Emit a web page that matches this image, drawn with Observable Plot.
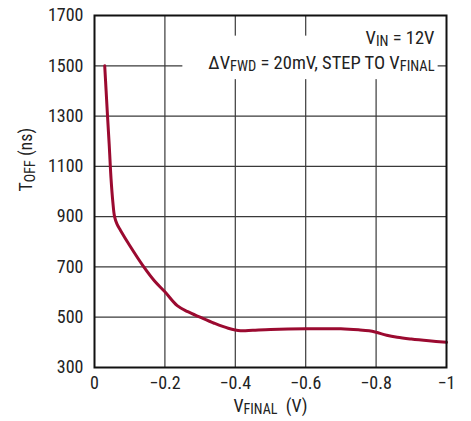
<!DOCTYPE html>
<html><head><meta charset="utf-8">
<script src="https://cdn.jsdelivr.net/npm/d3@7"></script>
<script src="https://cdn.jsdelivr.net/npm/@observablehq/plot@0.6"></script>
<style>
html,body{margin:0;padding:0;background:#fff;}
#chart svg{display:block;}
</style></head><body><div id="chart"></div>
<script>
// ---- data ----
const vFinal = [-0.029, -0.033, -0.037, -0.042, -0.047, -0.052, -0.057, -0.064, -0.074, -0.1, -0.14, -0.17, -0.2, -0.235, -0.265, -0.3, -0.34, -0.38, -0.415, -0.45, -0.5, -0.6, -0.7, -0.75, -0.78, -0.8, -0.83, -0.86, -0.9, -0.95, -1.0];
const tOff   = [1500, 1400, 1300, 1180, 1050, 960, 900, 870, 845, 785, 700, 645, 601, 546, 522, 500, 476, 456, 446, 448, 451, 454, 454, 450, 446, 440, 428, 420, 413, 406, 400];
const xTicks = [0, -0.2, -0.4, -0.6, -0.8, -1];
const xTickLabels = ["0", "−0.2", "−0.4", "−0.6", "−0.8", "−1"];
const yTicks = [300, 500, 700, 900, 1100, 1300, 1500, 1700];
const yTickLabels = ["300", "500", "700", "900", "1100", "1300", "1500", "1700"];
const annotations = ["V_{IN} = 12V", "ΔV_{FWD} = 20mV, STEP TO V_{FINAL}"];
const xLabel = ["V_{FINAL}  (V)"];
const yLabel = ["T_{OFF} (ns)"];

const data = vFinal.map((v, i) => ({v, t: tOff[i]}));
const FONT = '"Liberation Sans Narrow","Arial Narrow","Roboto Condensed","Liberation Sans",sans-serif';

const plot = Plot.plot({
  width: 471, height: 421,
  marginLeft: 94, marginRight: 25, marginTop: 15, marginBottom: 54,
  style: {fontFamily: FONT, fontSize: "18px", color: "#222", background: "#fff", overflow: "visible"},
  x: {domain: [0, -1], ticks: xTicks, tickFormat: d => xTickLabels[xTicks.indexOf(d)], tickSize: 0, tickPadding: 9, label: null},
  y: {domain: [300, 1700], ticks: yTicks, tickFormat: d => yTickLabels[yTicks.indexOf(d)], tickSize: 0, tickPadding: 11, label: null},
  marks: [
    Plot.ruleX(xTicks.slice(1, -1), {stroke: "#3a3a3a", strokeWidth: 1.2}),
    Plot.ruleY(yTicks.slice(1, -1), {stroke: "#3a3a3a", strokeWidth: 1.2}),
    Plot.text([annotations[0]], {text: d => d, frameAnchor: "top-right", dx: -12, dy: 15, fill: "#222", fontSize: 18.5}),
    Plot.text([annotations[1]], {text: d => d, frameAnchor: "top-right", dx: -12, dy: 40, fill: "#222", fontSize: 18.5}),
    Plot.line(data, {x: "v", y: "t", stroke: "#9b0a30", strokeWidth: 3, curve: "catmull-rom"}),
    Plot.frame({stroke: "#111", strokeWidth: 2}),
    Plot.text(xLabel, {text: d => d, frameAnchor: "bottom", dy: 44, fill: "#222"}),
    Plot.text(yLabel, {text: d => d, frameAnchor: "left", dx: -68, rotate: -90, fill: "#222"})
  ]
});
document.getElementById("chart").appendChild(plot);

// subscripts
const svgns = "http://www.w3.org/2000/svg";
plot.querySelectorAll("text").forEach(el => {
  const s = el.textContent;
  if (!s.includes("_{")) return;
  const parts = s.split(/(_\{[^}]*\})/);
  el.textContent = "";
  let shifted = false;
  for (const p of parts) {
    if (!p) continue;
    const ts = document.createElementNS(svgns, "tspan");
    if (p.startsWith("_{")) {
      ts.textContent = p.slice(2, -1);
      ts.setAttribute("font-size", "78%");
      ts.setAttribute("dy", "2.5");
      shifted = true;
    } else {
      ts.textContent = p;
      if (shifted) { ts.setAttribute("dy", "-2.5"); shifted = false; }
    }
    el.appendChild(ts);
  }
  el.setAttribute("xml:space", "preserve");
});

// white boxes behind the annotation lines (inserted before the first annotation group)
const svgBox = plot.getBoundingClientRect();
const texts = Array.from(plot.querySelectorAll("text"));
const pads = [[5, 12, 3, 1], [26, 16, 3, 4]]; // left, top, right, bottom
const annoEls = annotations.map(a => texts.find(t => t.textContent === a.replace(/_\{([^}]*)\}/g, "$1")));
const firstGroup = annoEls[0] && (annoEls[0].closest("g[aria-label='text']") || annoEls[0].parentNode);
annoEls.forEach((el, i) => {
  if (!el || !firstGroup) return;
  const r = el.getBoundingClientRect();
  const [pl, pt, pr, pb] = pads[i];
  const rect = document.createElementNS(svgns, "rect");
  rect.setAttribute("x", r.left - svgBox.left - pl);
  rect.setAttribute("y", r.top - svgBox.top - pt);
  rect.setAttribute("width", r.width + pl + pr);
  rect.setAttribute("height", r.height + pt + pb);
  rect.setAttribute("fill", "#fff");
  firstGroup.parentNode.insertBefore(rect, firstGroup);
});
</script>
</body></html>
